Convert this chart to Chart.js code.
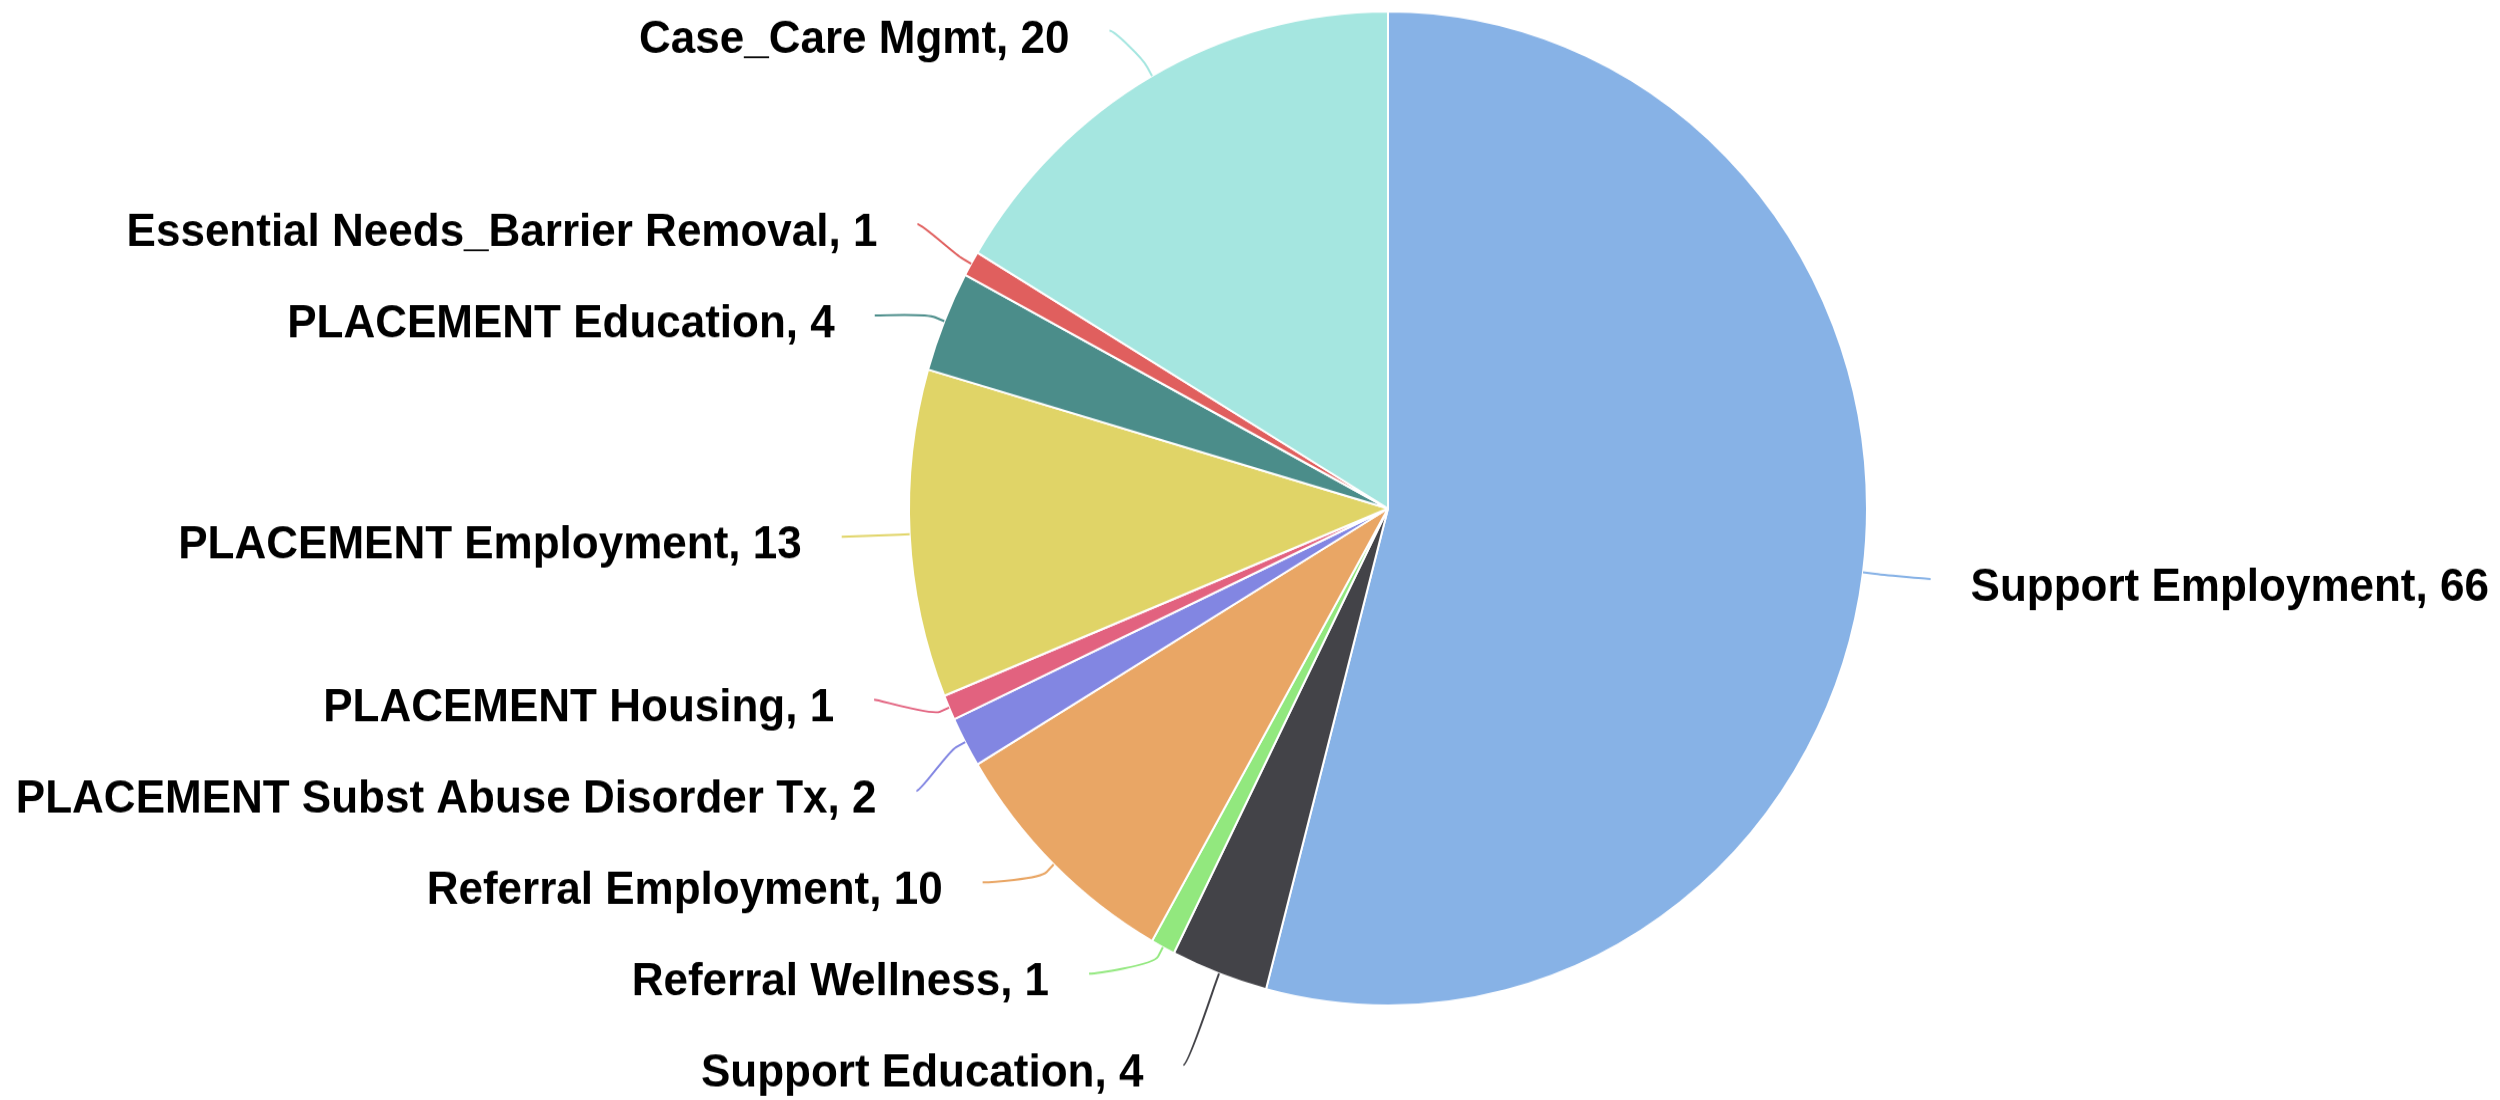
<!DOCTYPE html>
<html>
<head>
<meta charset="utf-8">
<title>Pie</title>
<script src="https://cdn.jsdelivr.net/npm/chart.js@4.4.1/dist/chart.umd.min.js"></script>
<style>
  html, body { margin: 0; padding: 0; background: #ffffff; }
  html { overflow: hidden; }
  body { width: 2500px; height: 1100px; }
  /* the reference is a little taller than wide, so stretch the whole chart vertically */
  .chart-wrap { width: 2500px; height: 1060px; transform: scaleY(1.0377); transform-origin: 0 0; }
</style>
</head>
<body>
<div class="chart-wrap">
  <canvas id="pie" width="2500" height="1060"></canvas>
</div>
<script>
const categories = [
  'Support Employment',
  'Support Education',
  'Referral Wellness',
  'Referral Employment',
  'PLACEMENT Subst Abuse Disorder Tx',
  'PLACEMENT Housing',
  'PLACEMENT Employment',
  'PLACEMENT Education',
  'Essential Needs_Barrier Removal',
  'Case_Care Mgmt'
];
const counts = [66, 4, 1, 10, 2, 1, 13, 4, 1, 20];
const sliceColors = [
  '#87b2e6', // blue
  '#434348', // dark gray
  '#92e87e', // green
  '#e9a665', // orange
  '#8286e2', // purple
  '#e2627f', // pink
  '#e0d467', // yellow
  '#4b8d8a', // teal
  '#e05f5e', // red
  '#a5e6e0'  // cyan
];

// outside labels with connectors, spread vertically so they don't overlap
const outsideLabels = {
  id: 'outsideLabels',
  afterDraw(chart, args, opts) {
    const ctx = chart.ctx;
    const meta = chart.getDatasetMeta(0);
    const ds = chart.data.datasets[0];
    const items = meta.data.map((arc, i) => {
      const p = arc.getProps(['x', 'y', 'startAngle', 'endAngle', 'outerRadius'], true);
      const ang = (p.startAngle + p.endAngle) / 2;
      const R = p.outerRadius + opts.distance;
      return {
        i, ang, cx: p.x, cy: p.y, r: p.outerRadius, R,
        side: Math.cos(ang) >= 0 ? 1 : -1,
        natural: p.y + Math.sin(ang) * R,
        text: chart.data.labels[i] + ', ' + ds.data[i],
        color: ds.backgroundColor[i]
      };
    });

    [1, -1].forEach(side => {
      const list = items.filter(d => d.side === side).sort((a, b) => a.natural - b.natural);
      let clusters = list.map(d => ({ items: [d], sum: d.natural }));
      const place = c => {
        const n = c.items.length;
        let top = c.sum / n - (n - 1) / 2 * opts.gap;
        top = Math.max(opts.minY, Math.min(top, opts.maxY - (n - 1) * opts.gap));
        c.top = top;
      };
      clusters.forEach(place);
      let merged = true;
      while (merged) {
        merged = false;
        for (let k = 0; k < clusters.length - 1; k++) {
          const a = clusters[k], b = clusters[k + 1];
          if (b.top < a.top + a.items.length * opts.gap) {
            const c = { items: a.items.concat(b.items), sum: a.sum + b.sum };
            place(c);
            clusters.splice(k, 2, c);
            merged = true;
            break;
          }
        }
      }
      clusters.forEach(c => c.items.forEach((d, k) => { d.ly = c.top + k * opts.gap; }));
    });

    ctx.save();
    items.forEach(d => {
      const dy = d.ly - d.cy;
      let lx;
      if (Math.abs(dy) <= d.R) {
        lx = d.cx + d.side * Math.sqrt(d.R * d.R - dy * dy);
      } else {
        lx = d.cx + Math.cos(d.ang) * d.R;
      }
      const touch = { x: d.cx + Math.cos(d.ang) * d.r, y: d.cy + Math.sin(d.ang) * d.r };
      const brk = { x: d.cx + Math.cos(d.ang) * (d.r + opts.breakOffset), y: d.cy + Math.sin(d.ang) * (d.r + opts.breakOffset) };
      const x0 = lx + d.side * opts.inset;

      ctx.beginPath();
      ctx.moveTo(x0, d.ly);
      ctx.bezierCurveTo(x0 - d.side * 5, d.ly, 2 * brk.x - touch.x, 2 * brk.y - touch.y, brk.x, brk.y);
      ctx.lineTo(touch.x, touch.y);
      ctx.strokeStyle = d.color;
      ctx.lineWidth = 2;
      ctx.stroke();

      ctx.font = 'bold 44px "Liberation Sans", Arial, Helvetica, sans-serif';
      ctx.fillStyle = '#000000';
      ctx.textBaseline = 'middle';
      ctx.textAlign = d.side > 0 ? 'left' : 'right';
      ctx.fillText(d.text, lx + d.side * opts.padding, d.ly + opts.textDy);
    });
    ctx.restore();
  }
};

const ctx = document.getElementById('pie').getContext('2d');
new Chart(ctx, {
  type: 'pie',
  data: {
    labels: categories,
    datasets: [{
      data: counts,
      backgroundColor: sliceColors,
      borderColor: '#ffffff',
      borderWidth: 2
    }]
  },
  options: {
    responsive: false,
    devicePixelRatio: 1,
    animation: false,
    layout: {
      padding: { left: 908, right: 632, top: 10, bottom: 90 }
    },
    plugins: {
      legend: { display: false },
      tooltip: { enabled: false },
      outsideLabels: {
        distance: 50,
        gap: 88,
        minY: 20,
        maxY: 1035,
        breakOffset: 10,
        inset: 18,
        padding: 58,
        textDy: 9
      }
    }
  },
  plugins: [outsideLabels]
});
</script>
</body>
</html>
